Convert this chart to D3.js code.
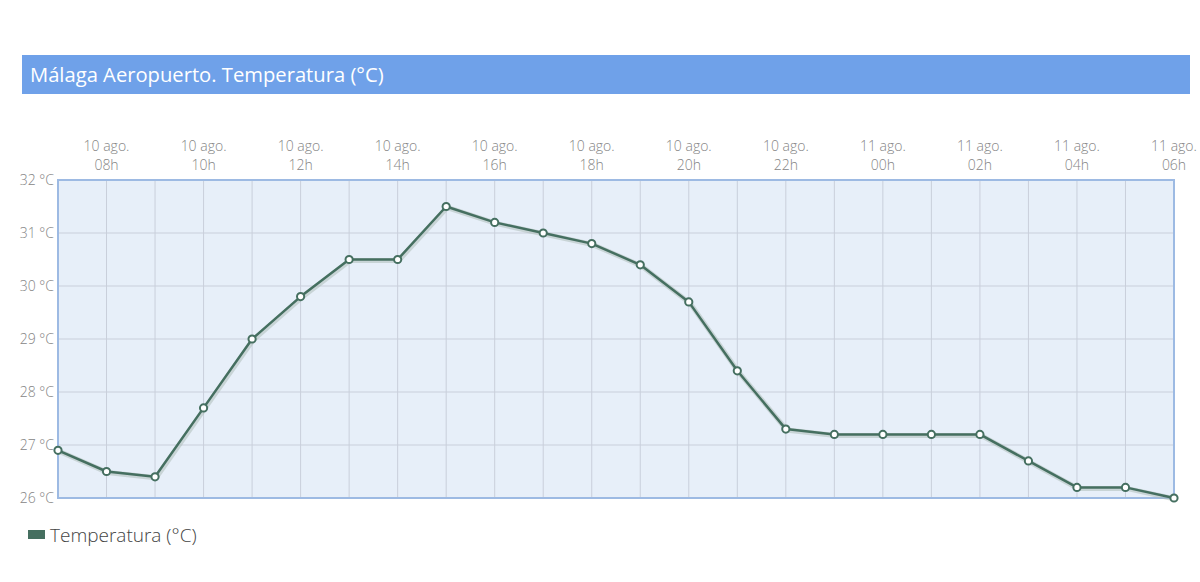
<!DOCTYPE html>
<html><head><meta charset="utf-8">
<script src="https://cdn.jsdelivr.net/npm/d3@7"></script>
<style>
html,body{margin:0;padding:0;background:#fff;}
svg{display:block;font-family:"Open Sans",sans-serif;}
</style></head>
<body><svg id="c" width="1200" height="582"></svg>
<script>
const title = "Málaga Aeropuerto. Temperatura (°C)";
const seriesName = "Temperatura (°C)";
const days = ["10 ago.","10 ago.","10 ago.","10 ago.","10 ago.","10 ago.","10 ago.","10 ago.","10 ago.","10 ago.","10 ago.","10 ago.","10 ago.","10 ago.","10 ago.","10 ago.","10 ago.","11 ago.","11 ago.","11 ago.","11 ago.","11 ago.","11 ago.","11 ago."];
const hours = ["07h","08h","09h","10h","11h","12h","13h","14h","15h","16h","17h","18h","19h","20h","21h","22h","23h","00h","01h","02h","03h","04h","05h","06h"];
const temps = [26.9,26.5,26.4,27.7,29.0,29.8,30.5,30.5,31.5,31.2,31.0,30.8,30.4,29.7,28.4,27.3,27.2,27.2,27.2,27.2,26.7,26.2,26.2,26.0];
const yTicks = [26,27,28,29,30,31,32];

const svg = d3.select("#c");
const L=58,R=1174,T=180,B=498;
const x = d3.scaleLinear().domain([0,hours.length-1]).range([L,R]);
const y = d3.scaleLinear().domain([26,32]).range([B,T]);

// title bar
svg.append("rect").attr("x",22).attr("y",55).attr("width",1168).attr("height",39).attr("fill","#6fa1e9");
svg.append("text").attr("x",30).attr("y",82).attr("fill","#fff").attr("font-size",20.2).text(title);

// plot background
svg.append("rect").attr("x",L).attr("y",T).attr("width",R-L).attr("height",B-T).attr("fill","#e7eff9");

// grid
const g = svg.append("g");
g.selectAll("line.v").data(d3.range(hours.length)).join("line")
 .attr("x1",d=>x(d)).attr("x2",d=>x(d)).attr("y1",T).attr("y2",B)
 .attr("stroke","#c9cfdb").attr("stroke-width",1);
g.selectAll("line.h").data(yTicks).join("line")
 .attr("x1",L).attr("x2",R).attr("y1",d=>y(d)).attr("y2",d=>y(d))
 .attr("stroke","#c9cfdb").attr("stroke-width",1);

// border
svg.append("rect").attr("x",L).attr("y",T).attr("width",R-L).attr("height",B-T)
 .attr("fill","none").attr("stroke","#9dbae3").attr("stroke-width",2);

// y axis labels
svg.append("g").selectAll("text").data(yTicks).join("text")
 .attr("x",L-4).attr("y",d=>y(d)+5).attr("text-anchor","end")
 .attr("fill","#858585").attr("font-size",14).attr("font-weight",300).text(d=>d+" °C");

// x axis labels (every 2h)
const idx = d3.range(1,hours.length,2);
const xl = svg.append("g").selectAll("g").data(idx).join("g");
xl.append("text").attr("x",d=>x(d)).attr("y",151).attr("text-anchor","middle")
 .attr("fill","#858585").attr("font-size",14).attr("font-weight",300).text(d=>days[d]);
xl.append("text").attr("x",d=>x(d)).attr("y",170).attr("text-anchor","middle")
 .attr("fill","#858585").attr("font-size",14).attr("font-weight",300).text(d=>hours[d]);

// line
const line = d3.line().x((d,i)=>x(i)).y(d=>y(d));
svg.append("path").datum(temps).attr("d",line).attr("fill","none")
 .attr("stroke","#a9b9b4").attr("stroke-width",5).attr("opacity",0.5).attr("transform","translate(1,1)");
svg.append("path").datum(temps).attr("d",line).attr("fill","none")
 .attr("stroke","#456f60").attr("stroke-width",2.5).attr("stroke-linejoin","round");
svg.append("g").selectAll("circle").data(temps).join("circle")
 .attr("cx",(d,i)=>x(i)).attr("cy",d=>y(d)).attr("r",3.6)
 .attr("fill","#fff").attr("stroke","#456f60").attr("stroke-width",2);

// legend
svg.append("rect").attr("x",28).attr("y",530).attr("width",17).attr("height",9).attr("fill","#456f60");
svg.append("text").attr("x",50).attr("y",542).attr("fill","#444").attr("font-size",19).attr("font-weight",300).text(seriesName);
</script></body></html>
